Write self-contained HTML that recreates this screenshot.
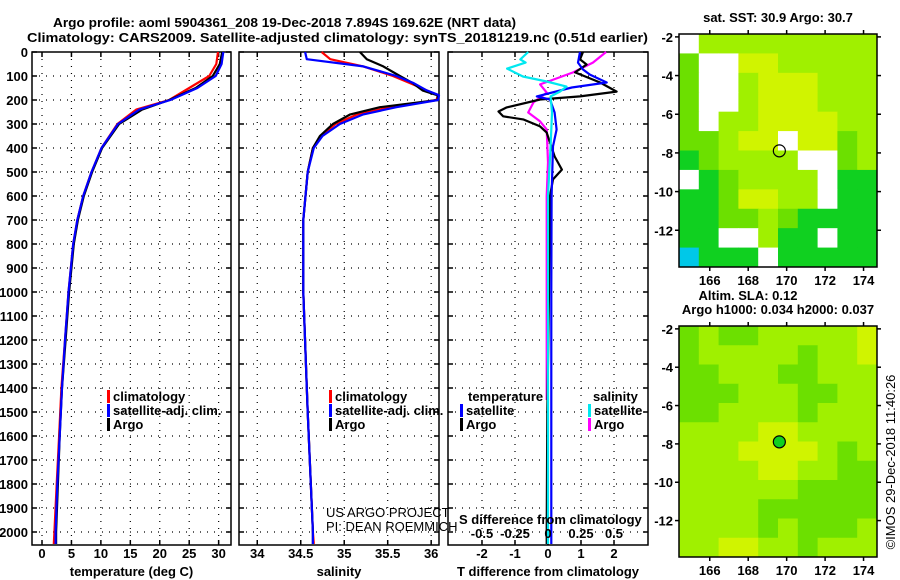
<!DOCTYPE html>
<html><head><meta charset="utf-8">
<style>
html,body{margin:0;padding:0;background:#fff;}
svg{display:block;font-family:"Liberation Sans",Arial,sans-serif;}
.b{font-weight:bold;font-size:13px;}
</style></head>
<body>
<svg id="chart" width="900" height="580" viewBox="0 0 900 580" xmlns="http://www.w3.org/2000/svg">
<text x="53" y="27" class="b" font-size="14" textLength="463" lengthAdjust="spacingAndGlyphs">Argo profile: aoml 5904361_208 19-Dec-2018 7.894S 169.62E (NRT data)</text>
<text x="27" y="42" class="b" font-size="14" textLength="621" lengthAdjust="spacingAndGlyphs">Climatology: CARS2009. Satellite-adjusted climatology: synTS_20181219.nc (0.51d earlier)</text>
<g id="layer"></g>
</svg>
<script>
// ---- data ----
const depthTicks = [0,100,200,300,400,500,600,700,800,900,1000,1100,1200,1300,1400,1500,1600,1700,1800,1900,2000];
const tempTicks = [0,5,10,15,20,25,30];
const salTicks = [34,34.5,35,35.5,36];
const tdiffTicks = [-2,-1,0,1,2];
const sdiffTicks = [-0.5,-0.25,0,0.25,0.5];
const sdiffTickLabels = ["-0.5","-0.25","0","0.25","0.5"];

const tempDepth = [0,50,100,150,200,240,300,400,500,600,700,800,1000,1200,1400,1600,1800,2000,2050];
const tempArgo  = [30.6,30.2,29.0,26.1,21.6,17.0,13.1,10.2,8.5,7.1,6.1,5.4,4.6,4.0,3.4,3.0,2.7,2.4,2.4];
const tempClim  = [29.9,29.6,28.4,25.0,21.6,16.0,12.8,10.1,8.4,7.0,6.0,5.3,4.5,3.9,3.3,2.9,2.5,2.1,2.0];
const tempSat   = [30.8,30.5,29.5,26.4,21.8,16.5,12.9,10.1,8.4,7.0,6.0,5.3,4.5,3.9,3.4,3.0,2.6,2.3,2.3];

const salDepth = [0,30,60,100,130,160,180,200,230,260,300,350,400,500,700,1000,1400,1500,2000,2050];
const salArgo  = [35.18,35.26,35.45,35.64,35.79,35.9,36.07,36.08,35.41,35.07,34.87,34.72,34.64,34.58,34.53,34.53,34.57,34.58,34.64,34.64];
const salClim  = [34.74,34.84,35.22,35.56,35.76,35.95,36.08,36.06,35.53,35.15,34.9,34.73,34.64,34.58,34.53,34.53,34.57,34.58,34.64,34.65];
const salSat   = [34.55,34.57,35.22,35.6,35.8,35.95,36.1,36.08,35.6,35.22,34.95,34.75,34.65,34.58,34.53,34.53,34.57,34.58,34.64,34.64];

const tdDepth = [0,31,52,85,127,165,185,198,231,248,268,281,310,336,435,490,531,600,1000,1500,2000,2050];
const tdArgo  = [1.06,0.97,1.17,0.82,1.58,2.08,0.97,-0.24,-1.25,-1.5,-1.36,-0.75,-0.24,-0.04,0.2,0.42,0.15,0.06,0.03,-0.02,-0.04,-0.04];
const tdSatDepth = [0,44,73,94,127,148,185,198,252,323,393,600,1000,1500,2000,2050];
const tdSat   = [0.97,0.91,1.06,1.27,1.78,0.72,-0.34,0.06,0.2,0.26,0.15,0.11,0.1,0.1,0.1,0.1];
const sdArgoDepth = [0,44,85,115,135,169,210,252,289,323,460,600,1000,1450];
const sdArgo  = [0.44,0.34,0.19,0.04,-0.06,-0.01,-0.11,-0.15,-0.06,-0.01,0.0,-0.01,-0.01,-0.01];
const sdSatDepth = [0,31,44,69,102,123,144,165,185,252,393,600,1000,1500,2000,2050];
const sdSat   = [-0.15,-0.21,-0.17,-0.31,-0.19,-0.01,0.14,0.09,0.02,0.03,0.02,0.0,0.0,0.0,0.0,0.0];

const lonTicks = [166,168,170,172,174];
const latTicks = [-2,-4,-6,-8,-10,-12];
const sstGrid = [
"Wlllllllll","gWWyylllll","gWWlyyylll","gWWlyyylll","gWllyyyyll","gglyyWyygl",
"GgllllWWgl","WGgllllWGG","GGgyyllWGG","GGgglgGGGG","GGWWlGGWGG","cGGGWGGGGG"];
const slaGrid = [
"glggllllly","glllllglly","gglllgglll","ggglllggll","ggllllglll","llllyyllll",
"lllyyyylgl","llllyyllgg","llllllgggg","llllgggggg","llllglgggl","llyyllglll"];
const argoLon = 169.62, argoLat = -7.894;

// ---- helpers ----
const NS="http://www.w3.org/2000/svg";
const layer=document.getElementById('layer');
function el(tag,attrs,parent){const e=document.createElementNS(NS,tag);for(const k in attrs)e.setAttribute(k,attrs[k]);(parent||layer).appendChild(e);return e;}
const Y0=52, PXD=0.24, YB=545;
const yD=d=>Y0+d*PXD;

const panels=[
 {name:'temperature-panel',x0:32,x1:231,v0:-1.7,v1:32.1,ticks:tempTicks,labels:tempTicks.map(String),title:'temperature (deg C)'},
 {name:'salinity-panel',x0:239,x1:439,v0:33.79,v1:36.09,ticks:salTicks,labels:salTicks.map(String),title:'salinity'},
 {name:'difference-panel',x0:448,x1:648,v0:-3.03,v1:3.03,ticks:tdiffTicks,labels:tdiffTicks.map(String),title:'T difference from climatology'}
];
panels.forEach(p=>{p.sx=v=>p.x0+(v-p.v0)/(p.v1-p.v0)*(p.x1-p.x0);});

panels.forEach((p,i)=>{
  const g=el('g',{});
  
  
  depthTicks.forEach(d=>{
    const y=yD(d);
    if(d>0){const l=el('line',{x1:p.x0,x2:p.x1,y1:y,y2:y,stroke:'#000','stroke-width':1.2,'stroke-dasharray':'1 6'},g);
      }
    el('line',{x1:p.x0,x2:p.x0+5,y1:y,y2:y,stroke:'#000','stroke-width':1.5},g);
    el('line',{x1:p.x1-5,x2:p.x1,y1:y,y2:y,stroke:'#000','stroke-width':1.5},g);
  });
  p.ticks.forEach((t,k)=>{
    const x=p.sx(t);
    const l=el('line',{x1:x,x2:x,y1:Y0,y2:YB,stroke:'#000','stroke-width':1.2,'stroke-dasharray':'1 6'},g);
    
    el('line',{x1:x,x2:x,y1:YB-5,y2:YB,stroke:'#000','stroke-width':1.5},g);
    el('line',{x1:x,x2:x,y1:Y0,y2:Y0+5,stroke:'#000','stroke-width':1.5},g);
    const tx=el('text',{x:x,y:558,'text-anchor':'middle',class:'b'},g);
    tx.textContent=p.labels[k];
    
  });
  const at=el('text',{x:(p.x0+p.x1)/2,y:576,'text-anchor':'middle',class:'b'},g);
  at.textContent=p.title;
  
  const fr=el('rect',{x:p.x0,y:Y0,width:p.x1-p.x0,height:YB-Y0,fill:'none',stroke:'#000','stroke-width':1.5},g);
  
});
depthTicks.forEach(d=>{
  const t=el('text',{x:28,y:yD(d)+5,'text-anchor':'end',class:'b'});
  t.textContent=String(d);
  
  
});

function line(p,vals,depths,color,name,w){
  const pts=vals.map((v,i)=>{let x=p.sx(v);x=Math.max(p.x0,Math.min(p.x1,x));return x.toFixed(1)+','+yD(depths[i]).toFixed(1);}).join(' ');
  const l=el('polyline',{points:pts,fill:'none',stroke:color,'stroke-width':w||2.2,'stroke-linejoin':'round'});
  
  
}
const P1=panels[0],P2=panels[1],P3=panels[2];
line(P1,tempClim,tempDepth,'#ff0000','temp-climatology-line');
line(P1,tempArgo,tempDepth,'#000','temp-argo-line');
line(P1,tempSat,tempDepth,'#0000ff','temp-satellite-line');
line(P2,salClim,salDepth,'#ff0000','sal-climatology-line');
line(P2,salArgo,salDepth,'#000','sal-argo-line');
line(P2,salSat,salDepth,'#0000ff','sal-satellite-line');
const P3s={x0:P3.x0,x1:P3.x1,sx:v=>P3.sx(v*4)};
line(P3s,sdArgo,sdArgoDepth,'#ff00ff','sdiff-argo-line');
line(P3,tdArgo,tdDepth,'#000','tdiff-argo-line');
line(P3,tdSat,tdSatDepth,'#0000ff','tdiff-satellite-line');
line(P3s,sdSat,sdSatDepth,'#00e8f0','sdiff-satellite-line');

function legItem(x,y,color,label,name){
  const r=el('rect',{x:x,y:y-11,width:3,height:13,fill:color});
  
  const t=el('text',{x:x+6,y:y,class:'b'});
  t.textContent=label;
  
}
legItem(107,401,'#ff0000','climatology','legend-climatology');
legItem(107,415,'#0000ff','satellite-adj. clim.','legend-satellite-adj');
legItem(107,429,'#000','Argo','legend-argo');
legItem(329,401,'#ff0000','climatology','legend-climatology-sal');
legItem(329,415,'#0000ff','satellite-adj. clim.','legend-satellite-adj-sal');
legItem(329,429,'#000','Argo','legend-argo-sal');
let t=el('text',{x:468,y:401,class:'b'});t.textContent='temperature';

legItem(460,415,'#0000ff','satellite','legend-t-satellite');
legItem(460,429,'#000','Argo','legend-t-argo');
t=el('text',{x:593,y:401,class:'b'});t.textContent='salinity';

legItem(588,415,'#00e8f0','satellite','legend-s-satellite');
legItem(588,429,'#ff00ff','Argo','legend-s-argo');
t=el('text',{x:459,y:524,class:'b'});t.textContent='S difference from climatology';

sdiffTicks.forEach((v,i)=>{
  const tt=el('text',{x:P3.sx(v*4),y:538,'text-anchor':'middle',class:'b'});
  tt.textContent=sdiffTickLabels[i];
  
});
t=el('text',{x:326,y:517,'font-size':13});t.textContent='US ARGO PROJECT';

t=el('text',{x:326,y:531,'font-size':13});t.textContent='PI: DEAN ROEMMICH';


const colors={W:'#ffffff',y:'#d0f400',l:'#a0f000',g:'#6ce000',G:'#10d020',c:'#00c8e8'};
function map(grid,top,bottom,name,titleLines,circleFill){
  const x0=679,x1=877,lon0=164.4,lon1=174.7,lat0=-1.85,lat1=-13.9;
  const sx=v=>x0+(v-lon0)/(lon1-lon0)*(x1-x0);
  const sy=v=>top+(v-lat0)/(lat1-lat0)*(bottom-top);
  const g=el('g',{});
  
  const rows=grid.length,cols=grid[0].length;
  const cw=(x1-x0)/cols,ch=(bottom-top)/rows;
  grid.forEach((row,r)=>{for(let c=0;c<cols;c++){
    const cell=el('rect',{x:x0+c*cw,y:top+r*ch,width:cw+0.5,height:ch+0.5,fill:colors[row[c]]||'#a0f000'},g);
    
  }});
  const fr=el('rect',{x:x0,y:top,width:x1-x0,height:bottom-top,fill:'none',stroke:'#000','stroke-width':1.5},g);
  
  lonTicks.forEach(v=>{const x=sx(v);
    el('line',{x1:x,x2:x,y1:bottom,y2:bottom+4,stroke:'#000','stroke-width':1.5},g);
    el('line',{x1:x,x2:x,y1:top-4,y2:top,stroke:'#000','stroke-width':1.5},g);
    const tt=el('text',{x:x,y:bottom+18,'text-anchor':'middle',class:'b'},g);tt.textContent=String(v);
    });
  latTicks.forEach(v=>{const y=sy(v);
    el('line',{x1:x0-4,x2:x0,y1:y,y2:y,stroke:'#000','stroke-width':1.5},g);
    el('line',{x1:x1,x2:x1+4,y1:y,y2:y,stroke:'#000','stroke-width':1.5},g);
    const tt=el('text',{x:673,y:y+5,'text-anchor':'end',class:'b'},g);tt.textContent=String(v);
    });
  const c=el('circle',{cx:sx(argoLon),cy:sy(argoLat),r:6,fill:circleFill,stroke:'#000','stroke-width':1.2},g);
  
  titleLines.forEach(tl=>{const tt=el('text',{x:tl[1],y:tl[2],'text-anchor':'middle',class:'b'},g);tt.textContent=tl[0];
    });
}
map(sstGrid,34,267,'sst-map',[['sat. SST: 30.9 Argo: 30.7',778,22]],'none');
map(slaGrid,326,557,'sla-map',[['Altim. SLA: 0.12',748,300],['Argo h1000: 0.034 h2000: 0.037',778,314]],'#10d020');
t=el('text',{x:0,y:0,'font-size':13,transform:'translate(895,462) rotate(-90)','text-anchor':'middle'});
t.textContent='©IMOS 29-Dec-2018 11:40:26';

</script>
</body></html>
